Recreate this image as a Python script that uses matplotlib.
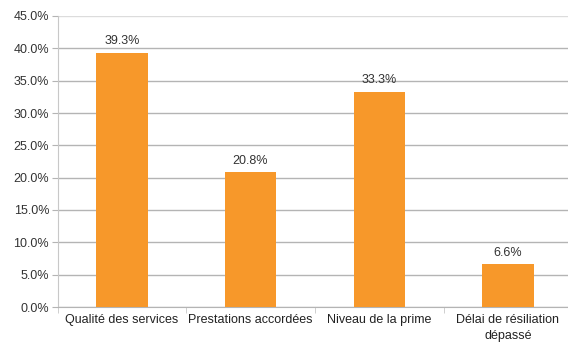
import matplotlib
matplotlib.use("Agg")
import matplotlib.pyplot as plt
import numpy as np

categories = ["Qualité des services", "Prestations accordées", "Niveau de la prime",
              "Délai de résiliation\ndépassé"]
values = [39.3, 20.8, 33.3, 6.6]
yticks = [0, 5, 10, 15, 20, 25, 30, 35, 40, 45]

plt.rcParams['font.family'] = ['Liberation Sans', 'DejaVu Sans']

fig = plt.figure(figsize=(5.68, 3.42), dpi=100)
ax = fig.add_axes([57.5 / 568, 35 / 342, 514.8 / 568, 291 / 342])

x = np.arange(len(categories))
ax.bar(x, values, width=0.40, color="#F7982A", zorder=3)
for xi, v in zip(x, values):
    ax.text(xi, v + 0.9, "%.1f%%" % v, ha="center", va="bottom",
            fontsize=9, color="#333333")

ax.set_xlim(-0.5, len(categories) - 0.5)
ax.set_ylim(0, 45)
ax.set_yticks(yticks)
ax.set_yticklabels(["%.1f%%" % t for t in yticks], fontsize=9, color="#333333")
ax.yaxis.grid(True, color="#B4B4B4", linewidth=1, zorder=0)
ax.get_ygridlines()[-1].set_color("#DCDCDC")
ax.tick_params(axis="y", length=4, color="#B4B4B4", pad=2)

# category labels in the middle, ticks between categories
ax.set_xticks(x)
ax.set_xticklabels(categories, fontsize=9, color="#222222", linespacing=1.4)
ax.tick_params(axis="x", length=0, pad=5)
ax.set_xticks(np.arange(len(categories) + 1) - 0.5, minor=True)
ax.tick_params(axis="x", which="minor", length=4, color="#C8C8C8")

for side in ["top", "right"]:
    ax.spines[side].set_visible(False)
ax.spines["left"].set_color("#C8C8C8")
ax.spines["bottom"].set_color("#B4B4B4")

fig.savefig("out.png", dpi=100)
